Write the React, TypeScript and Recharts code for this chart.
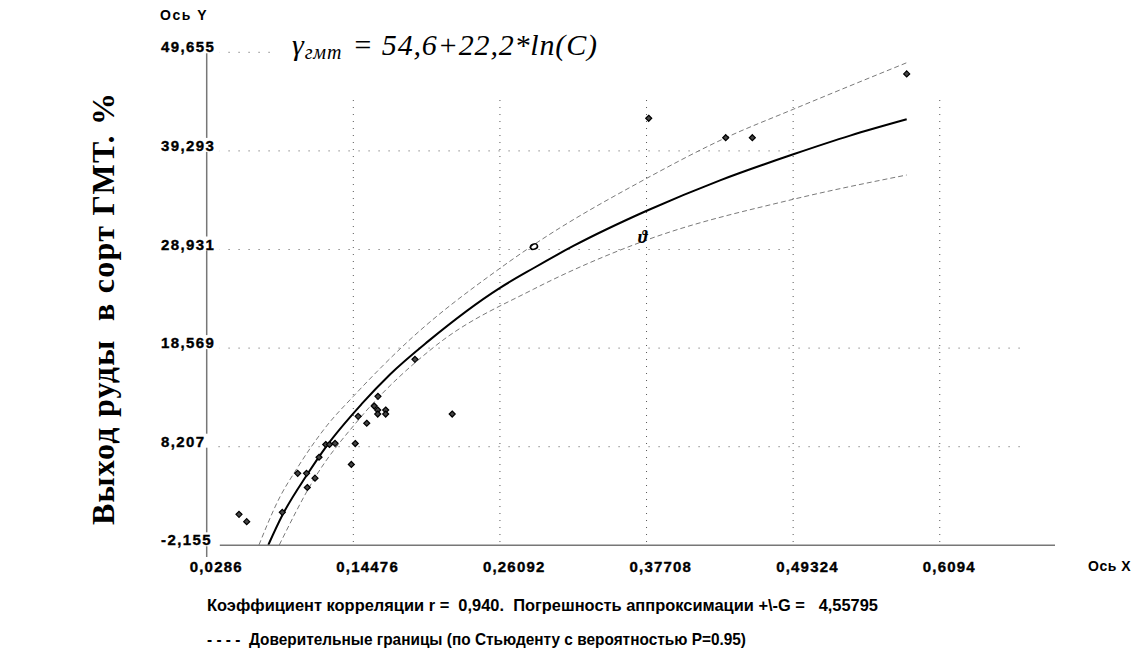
import React from "react";
import { ComposedChart, Line, Scatter, XAxis, YAxis, ReferenceLine } from "recharts";

// ---- tick values / labels ----
const xTicks = [0.0286, 0.14476, 0.26092, 0.37708, 0.49324, 0.6094];
const xTickLabels = ["0,0286", "0,14476", "0,26092", "0,37708", "0,49324", "0,6094"];
const yTicks = [-2.155, 8.207, 18.569, 28.931, 39.293, 49.655];
const yTickLabels = ["-2,155", "8,207", "18,569", "28,931", "39,293", "49,655"];

// ---- regression curve ----
const fitX = [0.0774, 0.0885, 0.1078, 0.1237, 0.1514, 0.1738, 0.2042, 0.261, 0.2874, 0.3191, 0.3772, 0.4353, 0.4934, 0.5384, 0.5832];
const fitY = [-2.12, 1.0, 5.2, 8.3, 12.7, 15.8, 19.3, 24.9, 26.96, 29.3, 33.0, 36.2, 38.94, 40.9, 42.61];

// ---- confidence bounds ----
const upperX = [0.07, 0.0867, 0.0986, 0.1237, 0.1448, 0.1883, 0.261, 0.2874, 0.3772, 0.4406, 0.4934, 0.5832];
const upperY = [-2.12, 2.95, 5.6, 10.4, 13.5, 19.3, 26.96, 29.4, 36.41, 40.72, 43.67, 48.56];
const lowerX = [0.0861, 0.1142, 0.1487, 0.2108, 0.2874, 0.3772, 0.4934, 0.5832];
const lowerY = [-2.12, 4.92, 11.0, 18.9, 24.75, 29.93, 34.21, 36.76];

// ---- observations ----
const pointX = [0.0542, 0.0603, 0.0885, 0.1007, 0.1077, 0.1144, 0.1083, 0.1176, 0.1229, 0.1259, 0.1303, 0.1463, 0.1432, 0.1486, 0.1554, 0.1613, 0.1643, 0.1641, 0.1641, 0.1704, 0.1704, 0.2231, 0.1936, 0.5832, 0.3788, 0.4398, 0.4609];
const pointY = [1.1, 0.33, 1.31, 5.41, 5.41, 4.9, 3.92, 7.1, 8.44, 8.44, 8.56, 8.54, 6.34, 11.4, 10.67, 12.48, 13.5, 12.06, 11.64, 12.06, 11.64, 11.64, 17.39, 47.38, 42.72, 40.68, 40.68];
const circleX = [0.2879];
const circleY = [29.23];
const thetaX = [0.3741];
const thetaY = [30.28];

// ---- grid extents (data units) ----
const xMin = 0.0286;
const xMax = 0.7007;
const yMin = -2.155;
const yMax = 49.655;
const vGridTop = 44.64;
const hGridStart = 0.038;
const hGridEnds = [0, 0.677, 0.677, 0.4905, 0.4905, 0.0806];

const zip = (xs: number[], ys: number[]) => xs.map((x, i) => ({ x, y: ys[i] }));
const fitData = zip(fitX, fitY);
const upperData = zip(upperX, upperY);
const lowerData = zip(lowerX, lowerY);
const pointData = zip(pointX, pointY);
const circleData = zip(circleX, circleY);
const thetaData = zip(thetaX, thetaY);

const tickFont = "'Liberation Sans', Arial, sans-serif";

const YTick = (props: any) => {
  const { y, payload, index } = props;
  const i = yTicks.indexOf(payload.value);
  const label = i >= 0 ? yTickLabels[i] : String(payload.value);
  const w = label.length * 9.8;
  return (
    <g>
      {index === 0 && <line x1={194} x2={207} y1={y} y2={y} stroke="#777" strokeWidth={1.5} />}
      <rect x={159} y={y - 13} width={w + 2} height={14} fill="#fff" />
      <text x={161} y={y} fontFamily={tickFont} fontWeight="bold" fontSize={15} letterSpacing={1.4} stroke="#000" strokeWidth={0.35} fill="#000">
        {label}
      </text>
    </g>
  );
};

const XTick = (props: any) => {
  const { x, payload, index } = props;
  const i = xTicks.indexOf(payload.value);
  const label = i >= 0 ? xTickLabels[i] : String(payload.value);
  return (
    <g>
      {index === 0 && <line x1={x} x2={x} y1={545.3} y2={557} stroke="#777" strokeWidth={1.5} />}
      <text x={x - 17} y={572} fontFamily={tickFont} fontWeight="bold" fontSize={15} letterSpacing={1.2} stroke="#000" strokeWidth={0.35} fill="#000">
        {label}
      </text>
    </g>
  );
};

const Diamond = (props: any) => {
  const { cx, cy } = props;
  if (cx == null || cy == null) return null;
  const s = 3;
  return (
    <polygon
      points={`${cx},${cy - s} ${cx + s},${cy} ${cx},${cy + s} ${cx - s},${cy}`}
      fill="#444"
      stroke="#000"
      strokeWidth={1.2}
    />
  );
};

const Ring = (props: any) => {
  const { cx, cy } = props;
  if (cx == null || cy == null) return null;
  return <ellipse cx={cx} cy={cy} rx={3.6} ry={2.6} fill="none" stroke="#000" strokeWidth={1.6} transform={`rotate(-20 ${cx} ${cy})`} />;
};

const Theta = (props: any) => {
  const { cx, cy } = props;
  if (cx == null || cy == null) return null;
  return (
    <text x={cx} y={cy + 6} textAnchor="middle" fontFamily="'Liberation Serif', serif" fontStyle="italic" fontWeight="bold" fontSize={18} fill="#000">
      ϑ
    </text>
  );
};

export default function App() {
  return (
    <div style={{ position: "absolute", left: 0, top: 0, width: 1134, height: 650, background: "#fff" }}>
      <ComposedChart width={1134} height={650} margin={{ top: 52.3, right: 79, left: 146.7, bottom: 74.7 }}>
        <XAxis
          type="number"
          dataKey="x"
          domain={[xMin, xMax]}
          ticks={xTicks}
          allowDataOverflow
          height={30}
          axisLine={{ stroke: "#777", strokeWidth: 1.5 }}
          tickLine={false}
          tick={<XTick />}
          interval={0}
        />
        <YAxis
          type="number"
          dataKey="y"
          domain={[yMin, yMax]}
          ticks={yTicks}
          allowDataOverflow
          width={60}
          axisLine={{ stroke: "#777", strokeWidth: 1.5 }}
          tickLine={false}
          tick={<YTick />}
          interval={0}
        />
        {xTicks.slice(1).map((v) => (
          <ReferenceLine
            key={"v" + v}
            segment={[{ x: v, y: vGridTop }, { x: v, y: yMin }]}
            stroke="#555"
            strokeWidth={1}
            strokeDasharray="1 6"
          />
        ))}
        {yTicks.map((v, i) =>
          i === 0 ? null : (
            <ReferenceLine
              key={"h" + v}
              segment={[{ x: hGridStart, y: v }, { x: hGridEnds[i], y: v }]}
              stroke="#555"
              strokeWidth={1}
              strokeDasharray="1 9"
            />
          )
        )}
        <Line data={upperData} dataKey="y" type="monotone" stroke="#7a7a7a" strokeWidth={1} strokeDasharray="5 3" dot={false} isAnimationActive={false} />
        <Line data={lowerData} dataKey="y" type="monotone" stroke="#7a7a7a" strokeWidth={1} strokeDasharray="5 3" dot={false} isAnimationActive={false} />
        <Line data={fitData} dataKey="y" type="monotone" stroke="#000" strokeWidth={2} dot={false} isAnimationActive={false} />
        <Scatter data={pointData} dataKey="y" shape={<Diamond />} isAnimationActive={false} />
        <Scatter data={circleData} dataKey="y" shape={<Ring />} isAnimationActive={false} />
        <Scatter data={thetaData} dataKey="y" shape={<Theta />} isAnimationActive={false} />
      </ComposedChart>
      <svg width={1134} height={650} style={{ position: "absolute", left: 0, top: 0, pointerEvents: "none" }}>
        <text x={160} y={20} fontFamily={tickFont} fontWeight="bold" fontSize={14} letterSpacing={1.5} fill="#000">Ось Y</text>
        <text x={292} y={55} fontFamily="'Liberation Serif', 'Times New Roman', serif" fontStyle="italic" fontSize={30} fill="#000" textLength={305} lengthAdjust="spacing">
          <tspan>γ</tspan>
          <tspan fontSize={20} dy={4}>гмт</tspan>
          <tspan dy={-4} dx={2}> = 54,6+22,2*ln(C)</tspan>
        </text>
        <text x={1088} y={571} fontFamily={tickFont} fontWeight="bold" fontSize={14} letterSpacing={0.5} fill="#000">Ось X</text>
        <text x={207} y={611} fontFamily="'Liberation Sans', Arial, sans-serif" fontWeight="bold" fontSize={17} fill="#000" textLength={671} lengthAdjust="spacingAndGlyphs" xmlSpace="preserve" style={{ whiteSpace: "pre" }}>
          {"Коэффициент корреляции r =  0,940.  Погрешность аппроксимации +\\-G =   4,55795"}
        </text>
        <text x={207} y={645} fontFamily="'Liberation Sans', Arial, sans-serif" fontWeight="bold" fontSize={17} fill="#000" textLength={539} lengthAdjust="spacingAndGlyphs" xmlSpace="preserve" style={{ whiteSpace: "pre" }}>
          {"- - - -  Доверительные границы (по Стьюденту с вероятностью P=0.95)"}
        </text>
        <text
          x={0}
          y={0}
          transform="translate(103 309) rotate(-90)"
          textAnchor="middle"
          dominantBaseline="central"
          fontFamily="'Liberation Serif', 'Times New Roman', serif"
          fontWeight="bold"
          fontSize={32}
          fill="#000"
          textLength={432}
          lengthAdjust="spacing"
          xmlSpace="preserve"
          style={{ whiteSpace: "pre" }}
        >
          {"Выход руды  в сорт ГМТ. %"}
        </text>
      </svg>
    </div>
  );
}
